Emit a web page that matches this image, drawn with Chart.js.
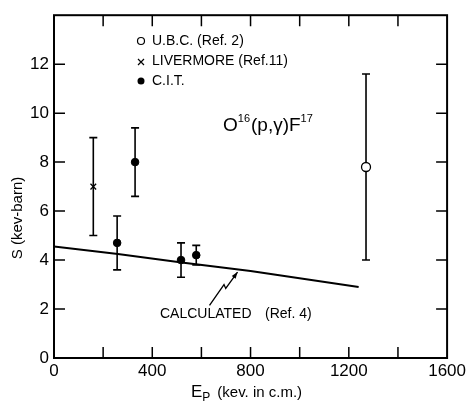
<!DOCTYPE html>
<html>
<head>
<meta charset="utf-8">
<script src="https://cdn.jsdelivr.net/npm/chart.js@4"></script>
<style>
  html, body { margin: 0; padding: 0; background: #fff; }
  #wrap { width: 469px; height: 406px; }
</style>
</head>
<body>
<div id="wrap"><canvas id="myChart" width="469" height="406"></canvas></div>
<script>
// data
const ubcE = [1270];
const ubcS = [7.8];
const ubcLo = [4.0];
const ubcHi = [11.6];

const livE = [160];
const livS = [7.0];
const livLo = [5.0];
const livHi = [9.0];

const citE = [257, 330, 517, 579];
const citS = [4.7, 8.0, 4.0, 4.2];
const citLo = [3.6, 6.6, 3.3, 3.8];
const citHi = [5.8, 9.4, 4.7, 4.6];

const calcE = [0, 260, 520, 800, 1240];
const calcS = [4.55, 4.25, 3.9, 3.55, 2.9];

const xTicks = [0, 400, 800, 1200, 1600];
const yTicks = [0, 2, 4, 6, 8, 10, 12];

const FONT = "'Liberation Sans', Arial, sans-serif";

function pts(xs, ys) {
  return xs.map(function (x, i) { return { x: x, y: ys[i] }; });
}

// error bars + frame + inward ticks + text
const decor = {
  id: "decor",
  afterDatasetsDraw(chart) {
    const ctx = chart.ctx;
    const xs = chart.scales.x;
    const ys = chart.scales.y;
    const a = chart.chartArea;
    ctx.save();
    ctx.strokeStyle = "#000";
    ctx.fillStyle = "#000";

    // error bars
    ctx.lineWidth = 1.6;
    const bars = [
      [ubcE, ubcS, ubcLo, ubcHi, 4.5],
      [livE, livS, livLo, livHi, 0],
      [citE, citS, citLo, citHi, 3.5],
    ];
    bars.forEach(function (b) {
      b[0].forEach(function (e, i) {
        const px = xs.getPixelForValue(e);
        const pc = ys.getPixelForValue(b[1][i]);
        const pl = ys.getPixelForValue(b[2][i]);
        const ph = ys.getPixelForValue(b[3][i]);
        ctx.beginPath();
        ctx.moveTo(px, ph); ctx.lineTo(px, pc - b[4]);
        ctx.moveTo(px, pc + b[4]); ctx.lineTo(px, pl);
        ctx.moveTo(px - 4, ph); ctx.lineTo(px + 4, ph);
        ctx.moveTo(px - 4, pl); ctx.lineTo(px + 4, pl);
        ctx.stroke();
      });
    });

    // frame
    ctx.lineWidth = 2;
    ctx.strokeRect(a.left, a.top, a.right - a.left, a.bottom - a.top);

    // inward ticks
    ctx.lineWidth = 1.5;
    ctx.beginPath();
    for (let v = 200; v < 1600; v += 200) {
      const px = xs.getPixelForValue(v);
      ctx.moveTo(px, a.bottom); ctx.lineTo(px, a.bottom - 11);
      ctx.moveTo(px, a.top); ctx.lineTo(px, a.top + 11);
    }
    for (let v = 2; v < 14; v += 2) {
      const py = ys.getPixelForValue(v);
      ctx.moveTo(a.left, py); ctx.lineTo(a.left + 11, py);
      ctx.moveTo(a.right, py); ctx.lineTo(a.right - 11, py);
    }
    ctx.stroke();

    // legend
    const lx = 141;
    const rows = [41, 61, 81];
    ctx.lineWidth = 1.2;
    ctx.beginPath(); ctx.arc(lx, rows[0], 3.5, 0, Math.PI * 2); ctx.stroke();
    ctx.beginPath();
    ctx.moveTo(lx - 3, rows[1] - 2); ctx.lineTo(lx + 3, rows[1] + 4);
    ctx.moveTo(lx + 3, rows[1] - 2); ctx.lineTo(lx - 3, rows[1] + 4);
    ctx.stroke();
    ctx.beginPath(); ctx.arc(lx, rows[2], 3.5, 0, Math.PI * 2); ctx.fill();
    ctx.font = "14px " + FONT;
    ctx.textBaseline = "middle";
    ctx.textAlign = "left";
    ctx.fillText("U.B.C. (Ref. 2)", 152, rows[0]);
    ctx.fillText("LIVERMORE (Ref.11)", 152, rows[1]);
    ctx.fillText("C.I.T.", 152, rows[2]);

    // reaction label O16(p,γ)F17
    ctx.textBaseline = "alphabetic";
    let tx = 223;
    const ty = 131;
    const parts = [["O", 19, 0], ["16", 11, -9], ["(p,\u03b3)F", 19, 0], ["17", 11, -9]];
    parts.forEach(function (p) {
      ctx.font = p[1] + "px " + FONT;
      ctx.fillText(p[0], tx, ty + p[2]);
      tx += ctx.measureText(p[0]).width + (p[1] < 15 ? 1 : 0);
    });

    // calculated note + zigzag arrow
    ctx.font = "14px " + FONT;
    ctx.fillText("CALCULATED", 160, 318);
    ctx.fillText("(Ref. 4)", 265, 318);
    const arrow = [[633, 2.15], [692, 3.0], [699, 2.84], [747, 3.51]];
    ctx.lineWidth = 1.3;
    ctx.beginPath();
    arrow.forEach(function (p, i) {
      const px = xs.getPixelForValue(p[0]);
      const py = ys.getPixelForValue(p[1]);
      if (i === 0) ctx.moveTo(px, py); else ctx.lineTo(px, py);
    });
    ctx.stroke();
    const h1 = arrow[2], h2 = arrow[3];
    const hx = xs.getPixelForValue(h2[0]), hy = ys.getPixelForValue(h2[1]);
    const ang = Math.atan2(hy - ys.getPixelForValue(h1[1]), hx - xs.getPixelForValue(h1[0]));
    ctx.beginPath();
    ctx.moveTo(hx, hy);
    ctx.lineTo(hx - 7 * Math.cos(ang - 0.35), hy - 7 * Math.sin(ang - 0.35));
    ctx.lineTo(hx - 7 * Math.cos(ang + 0.35), hy - 7 * Math.sin(ang + 0.35));
    ctx.closePath();
    ctx.fill();

    // axis titles
    ctx.font = "17px " + FONT;
    ctx.fillText("E", 191, 397);
    let ex = 191 + ctx.measureText("E").width;
    ctx.font = "12px " + FONT;
    ctx.fillText("P", ex, 401);
    ex += ctx.measureText("P").width + 7;
    ctx.font = "15px " + FONT;
    ctx.fillText("(kev. in c.m.)", ex, 397);

    ctx.translate(22, 218);
    ctx.rotate(-Math.PI / 2);
    ctx.textAlign = "center";
    ctx.font = "15px " + FONT;
    ctx.fillText("S (kev-barn)", 0, 0);
    ctx.restore();
  },
};

Chart.defaults.font.family = FONT;
Chart.defaults.color = "#000";

const ctx = document.querySelector("#myChart");
const chart = new Chart(ctx, {
  type: "scatter",
  data: {
    datasets: [
      {
        label: "U.B.C. (Ref. 2)",
        data: pts(ubcE, ubcS),
        pointStyle: "circle",
        pointRadius: 4.5,
        borderColor: "#000",
        backgroundColor: "#fff",
        borderWidth: 1.3,
      },
      {
        label: "LIVERMORE (Ref.11)",
        data: pts(livE, livS),
        pointStyle: "crossRot",
        pointRadius: 4,
        borderColor: "#000",
        borderWidth: 1.3,
      },
      {
        label: "C.I.T.",
        data: pts(citE, citS),
        pointStyle: "circle",
        pointRadius: 3.8,
        borderColor: "#000",
        backgroundColor: "#000",
      },
      {
        label: "CALCULATED (Ref. 4)",
        data: pts(calcE, calcS),
        showLine: true,
        pointRadius: 0,
        borderColor: "#000",
        borderWidth: 2,
        tension: 0,
      },
    ],
  },
  options: {
    responsive: false,
    animation: false,
    layout: { padding: { top: 12, right: 21, left: 0, bottom: 0 } },
    plugins: { legend: { display: false }, tooltip: { enabled: false } },
    scales: {
      x: {
        type: "linear",
        min: 0,
        max: 1600,
        afterBuildTicks(s) { s.ticks = xTicks.map(function (v) { return { value: v }; }); },
        afterFit(s) { s.height = 48; },
        grid: { display: false, drawTicks: false },
        border: { display: false },
        ticks: {
          font: { size: 17 },
          padding: 3,
          maxRotation: 0,
          callback(v) { return String(v); },
        },
      },
      y: {
        type: "linear",
        min: 0,
        max: 14,
        afterBuildTicks(s) { s.ticks = yTicks.map(function (v) { return { value: v }; }); },
        afterFit(s) { s.width = 54; },
        grid: { display: false, drawTicks: false },
        border: { display: false },
        ticks: { font: { size: 17 }, padding: 5, callback(v) { return String(v); } },
      },
    },
  },
  plugins: [decor],
});
</script>
</body>
</html>
